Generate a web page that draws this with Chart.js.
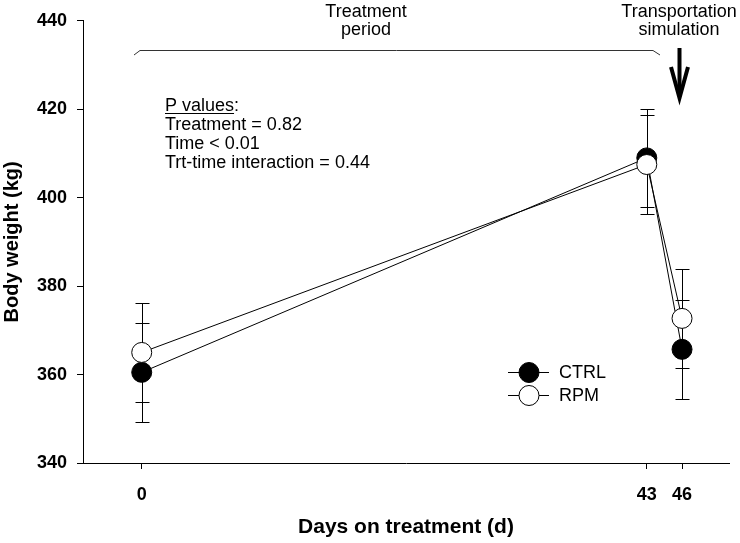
<!DOCTYPE html>
<html><head><meta charset="utf-8">
<script src="https://cdn.jsdelivr.net/npm/chart.js@4.4.0/dist/chart.umd.min.js"></script>
<style>html,body{margin:0;padding:0;background:#fff;}#wrap{width:740px;height:543px;position:relative;}</style>
</head><body><div id="wrap"><canvas id="c" width="740" height="543"></canvas></div>
<script>
// ---- data ----
const days = [0, 43, 46];
const ctrlMean = [360.5, 409.0, 365.7];
const ctrlSE = [11.2, 11.0, 11.2];
const rpmMean = [365.0, 407.5, 372.7];
const rpmSE = [11.2, 11.2, 11.2];
const xTicks = [0, 43, 46];
const yTicks = [340, 360, 380, 400, 420, 440];
const seriesNames = ['CTRL', 'RPM'];
const pValueLines = ['P values:', 'Treatment = 0.82', 'Time < 0.01', 'Trt-time interaction = 0.44'];

const FONT = "'Liberation Sans', Arial, sans-serif";

const errorBars = {
  id: 'errorBars',
  beforeDatasetsDraw(chart) {
    const {ctx, scales: {x, y}} = chart;
    ctx.save();
    ctx.strokeStyle = '#000';
    ctx.lineWidth = 1;
    chart.data.datasets.forEach(ds => {
      ds.se.forEach((se, i) => {
        const px = Math.round(x.getPixelForValue(ds.data[i].x)) + 0.5;
        const yt = Math.round(y.getPixelForValue(ds.data[i].y + se)) + 0.5;
        const yb = Math.round(y.getPixelForValue(ds.data[i].y - se)) + 0.5;
        ctx.beginPath();
        ctx.moveTo(px, yt); ctx.lineTo(px, yb);
        ctx.moveTo(px - 7, yt); ctx.lineTo(px + 7, yt);
        ctx.moveTo(px - 7, yb); ctx.lineTo(px + 7, yb);
        ctx.stroke();
      });
    });
    ctx.restore();
  }
};

const annotations = {
  id: 'annotations',
  afterDraw(chart) {
    const {ctx, scales: {x}} = chart;
    ctx.save();
    ctx.fillStyle = '#000';
    ctx.font = '18px ' + FONT;
    ctx.textBaseline = 'alphabetic';
    // period labels
    ctx.textAlign = 'center';
    ctx.fillText('Treatment', 366, 17);
    ctx.fillText('period', 366, 35);
    ctx.fillText('Transportation', 679, 17);
    ctx.fillText('simulation', 679, 35);
    // bracket
    ctx.strokeStyle = '#333';
    ctx.lineWidth = 1;
    ctx.beginPath();
    ctx.moveTo(134, 55); ctx.lineTo(140, 50.5); ctx.lineTo(653, 50.5); ctx.lineTo(660, 55);
    ctx.stroke();
    // arrow
    ctx.strokeStyle = '#000';
    ctx.lineWidth = 4;
    ctx.lineCap = 'butt';
    ctx.beginPath();
    ctx.moveTo(679.5, 48); ctx.lineTo(679.5, 94);
    ctx.stroke();
    ctx.lineJoin = 'miter';
    ctx.beginPath();
    ctx.moveTo(671, 67); ctx.lineTo(679.5, 98); ctx.lineTo(688, 67);
    ctx.stroke();
    // P values text
    ctx.lineWidth = 1;
    ctx.textAlign = 'left';
    const bl = [111, 130, 149, 168];
    pValueLines.forEach((t, i) => ctx.fillText(t, 165, bl[i]));
    const uw = ctx.measureText('P values').width;
    ctx.beginPath();
    ctx.moveTo(165, 113.5); ctx.lineTo(165 + uw, 113.5);
    ctx.stroke();
    // legend
    const ly = [372.5, 395.5];
    const fills = ['#000', '#fff'];
    seriesNames.forEach((n, i) => {
      ctx.strokeStyle = '#000';
      ctx.lineWidth = 1;
      ctx.beginPath();
      ctx.moveTo(508, ly[i]); ctx.lineTo(549, ly[i]);
      ctx.stroke();
      ctx.beginPath();
      ctx.arc(529, ly[i], 10, 0, Math.PI * 2);
      ctx.fillStyle = fills[i];
      ctx.fill();
      ctx.stroke();
      ctx.fillStyle = '#000';
      ctx.textBaseline = 'middle';
      ctx.fillText(n, 559, ly[i] + 1);
    });
    ctx.restore();
  }
};

const mk = (means, ses, name, fill, order) => ({
  label: name,
  data: days.map((d, i) => ({x: d, y: means[i]})),
  se: ses,
  borderColor: '#000',
  borderWidth: 1,
  pointRadius: 10,
  pointHoverRadius: 10,
  pointBorderWidth: 1,
  pointBorderColor: '#000',
  pointBackgroundColor: fill,
  backgroundColor: fill,
  tension: 0,
  fill: false,
  clip: false,
  order: order
});

new Chart(document.getElementById('c'), {
  type: 'line',
  data: {
    datasets: [
      mk(ctrlMean, ctrlSE, seriesNames[0], '#000', 2),
      mk(rpmMean, rpmSE, seriesNames[1], '#fff', 1)
    ]
  },
  options: {
    responsive: false,
    animation: false,
    devicePixelRatio: 1,
    layout: {padding: {top: 0, right: 8, bottom: 0, left: 0}},
    plugins: {legend: {display: false}, tooltip: {enabled: false}},
    scales: {
      x: {
        type: 'linear', min: -5, max: 50,
        afterBuildTicks: s => { s.ticks = xTicks.map(v => ({value: v})); },
        afterFit: s => { s.height = 80; },
        grid: {display: true, drawOnChartArea: false, drawTicks: true, tickLength: 6, color: '#000', tickColor: '#000'},
        border: {display: true, color: '#000', width: 1},
        ticks: {autoSkip: false, maxRotation: 0, padding: 15, color: '#000', font: {family: FONT, size: 18, weight: 'bold'}},
        title: {display: true, text: 'Days on treatment (d)', color: '#000', font: {family: FONT, size: 21, weight: 'bold'}, padding: {top: 0, bottom: 3}}
      },
      y: {
        type: 'linear', min: 340, max: 440,
        afterBuildTicks: s => { s.ticks = yTicks.map(v => ({value: v})); },
        afterFit: s => { s.width = 83; },
        grid: {display: true, drawOnChartArea: false, drawTicks: true, tickLength: 6, color: '#000', tickColor: '#000'},
        border: {display: true, color: '#000', width: 1},
        ticks: {padding: 10, color: '#000', font: {family: FONT, size: 18, weight: 'bold'}},
        title: {display: true, text: 'Body weight (kg)', color: '#000', font: {family: FONT, size: 20, weight: 'bold'}, padding: {top: 0, bottom: 0}}
      }
    }
  },
  plugins: [errorBars, annotations]
});
</script>
</body></html>
